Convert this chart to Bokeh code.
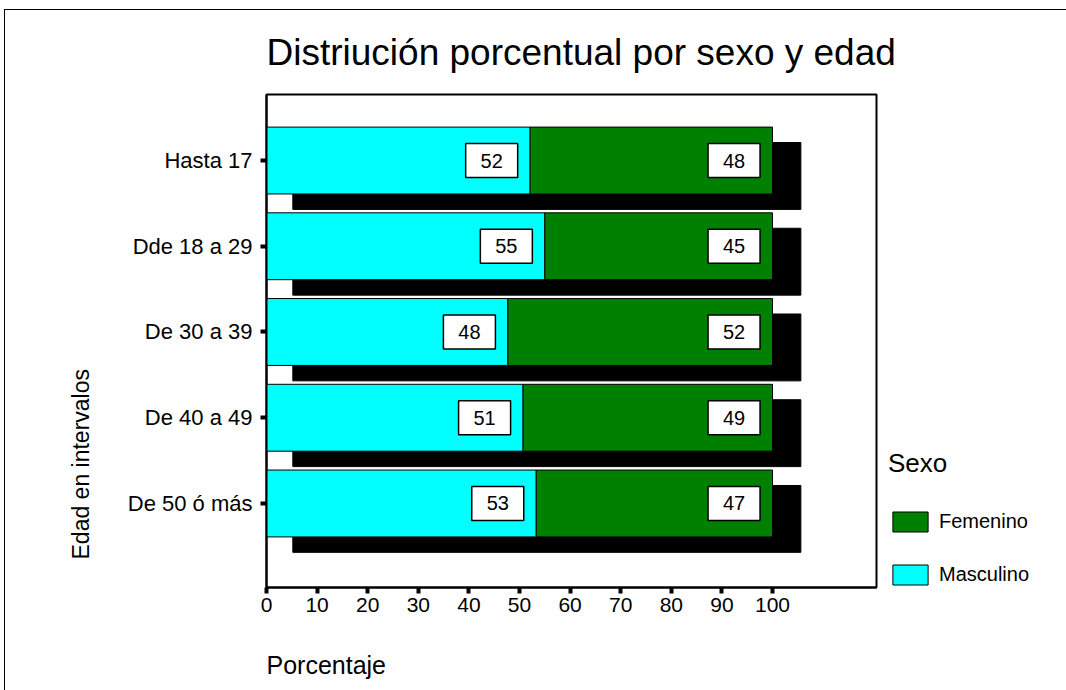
from bokeh.plotting import figure
from bokeh.models import FixedTicker, Title, Legend, LegendItem, ColumnDataSource, Range1d
from bokeh.embed import file_html
from bokeh.resources import INLINE
from bokeh.core.properties import value

# ---- data ----
categories = ["Hasta 17", "Dde 18 a 29", "De 30 a 39", "De 40 a 49", "De 50 ó más"]
masculino = [52.1, 55.0, 47.7, 50.7, 53.3]
femenino = [47.9, 45.0, 52.3, 49.3, 46.7]
x_ticks = [0, 10, 20, 30, 40, 50, 60, 70, 80, 90, 100]
series_names = ["Femenino", "Masculino"]
title_text = "Distriución porcentual por sexo y edad"
x_title = "Porcentaje"
y_title = "Edad en intervalos"
legend_title = "Sexo"

FONT = "Liberation Sans"
CYAN = "#00FFFF"
GREEN = "#008000"

n = len(categories)
ypos = [n - i for i in range(n)]
total = [m + f for m, f in zip(masculino, femenino)]

BAR_H = 0.78
SH_DY = 0.18
SH_DX_L = 5.2
SH_DX_R = 5.6
LBL_DX = 7.6

src = ColumnDataSource(dict(
    y=ypos,
    sy=[y - SH_DY for y in ypos],
    zero=[0] * n,
    masc=masculino,
    tot=total,
    sl=[SH_DX_L] * n,
    sr=[t + SH_DX_R for t in total],
    mlx=[m - LBL_DX for m in masculino],
    flx=[t - LBL_DX for t in total],
    mtxt=[str(int(round(v))) for v in masculino],
    ftxt=[str(int(round(v))) for v in femenino],
))

p = figure(frame_width=610, frame_height=493,
           min_border_left=261, min_border_right=190,
           min_border_top=84, min_border_bottom=103,
           x_range=Range1d(0, 120.55), y_range=Range1d(0.02, 5.77),
           output_backend="svg", toolbar_location=None, tools="")
p.styles = {"margin-left": "4px", "margin-top": "9px",
            "border-left": "1px solid black", "border-top": "1px solid black"}

p.background_fill_color = "white"
p.border_fill_color = "white"
p.outline_line_color = "black"
p.outline_line_width = 2
p.xgrid.grid_line_color = None
p.ygrid.grid_line_color = None

# shadow
p.hbar(y="sy", left="sl", right="sr", height=BAR_H, source=src,
       fill_color="black", line_color="black")
r_m = p.hbar(y="y", left="zero", right="masc", height=BAR_H, source=src,
             fill_color=CYAN, line_color="black", line_width=1)
r_f = p.hbar(y="y", left="masc", right="tot", height=BAR_H, source=src,
             fill_color=GREEN, line_color="black", line_width=1)

# value labels
for xc, tc in (("mlx", "mtxt"), ("flx", "ftxt")):
    p.rect(x=xc, y="y", width=52, height=34, width_units="screen", height_units="screen",
           source=src, fill_color="white", line_color="black", line_width=1.5)
    p.text(x=xc, y="y", text=tc, source=src, text_align="center", text_baseline="middle",
           text_font=value(FONT), text_font_size="20px", text_color="black")

# axes
xa = p.xaxis[0]
xa.ticker = FixedTicker(ticks=x_ticks)
ya = p.yaxis[0]
ya.ticker = FixedTicker(ticks=ypos)
ya.major_label_overrides = {y: c for y, c in zip(ypos, categories)}
for ax in (xa, ya):
    ax.axis_line_color = "black"
    ax.axis_line_width = 2
    ax.major_tick_line_color = "black"
    ax.major_tick_line_width = 4
    ax.major_tick_in = 0
    ax.major_tick_out = 6
    ax.minor_tick_line_color = None
    ax.major_label_text_font = FONT
    ax.major_label_text_color = "black"
xa.major_label_text_font_size = "21px"
ya.major_label_text_font_size = "22px"
xa.major_label_standoff = 4
ya.major_label_standoff = 8

# titles
p.title.text = title_text
p.title.text_font = FONT
p.title.text_font_size = "37px"
p.title.text_font_style = "normal"
p.title.text_color = "black"
p.title.align = "left"
p.title.offset = 0
p.title.vertical_align = "top"
p.title.standoff = 40

# x title: an empty first line pushes the text down inside the fixed bottom border
p.add_layout(Title(text="\n" + x_title, align="left", text_font=FONT, text_font_size="25px",
                   text_font_style="normal", text_color="black", standoff=12), "below")
p.add_layout(Title(text=y_title, align="left", text_font=FONT, text_font_size="23px",
                   text_font_style="normal", text_color="black", standoff=61, offset=28), "left")

# legend
legend = Legend(items=[LegendItem(label=series_names[0], renderers=[r_f]),
                       LegendItem(label=series_names[1], renderers=[r_m])],
                title=legend_title, location=(12, 0), orientation="vertical")
legend.title_text_font = FONT
legend.title_text_font_size = "26px"
legend.title_text_font_style = "normal"
legend.title_text_color = "black"
legend.title_standoff = 30
legend.label_text_font = FONT
legend.label_text_font_size = "20px"
legend.label_text_color = "black"
legend.label_standoff = 7
legend.glyph_width = 44
legend.glyph_height = 25
legend.label_height = 25
legend.spacing = 28
legend.padding = 0
legend.margin = 0
legend.border_line_color = None
legend.background_fill_alpha = 0
p.add_layout(legend, "right")

open("out.html", "w").write(file_html(p, INLINE))
